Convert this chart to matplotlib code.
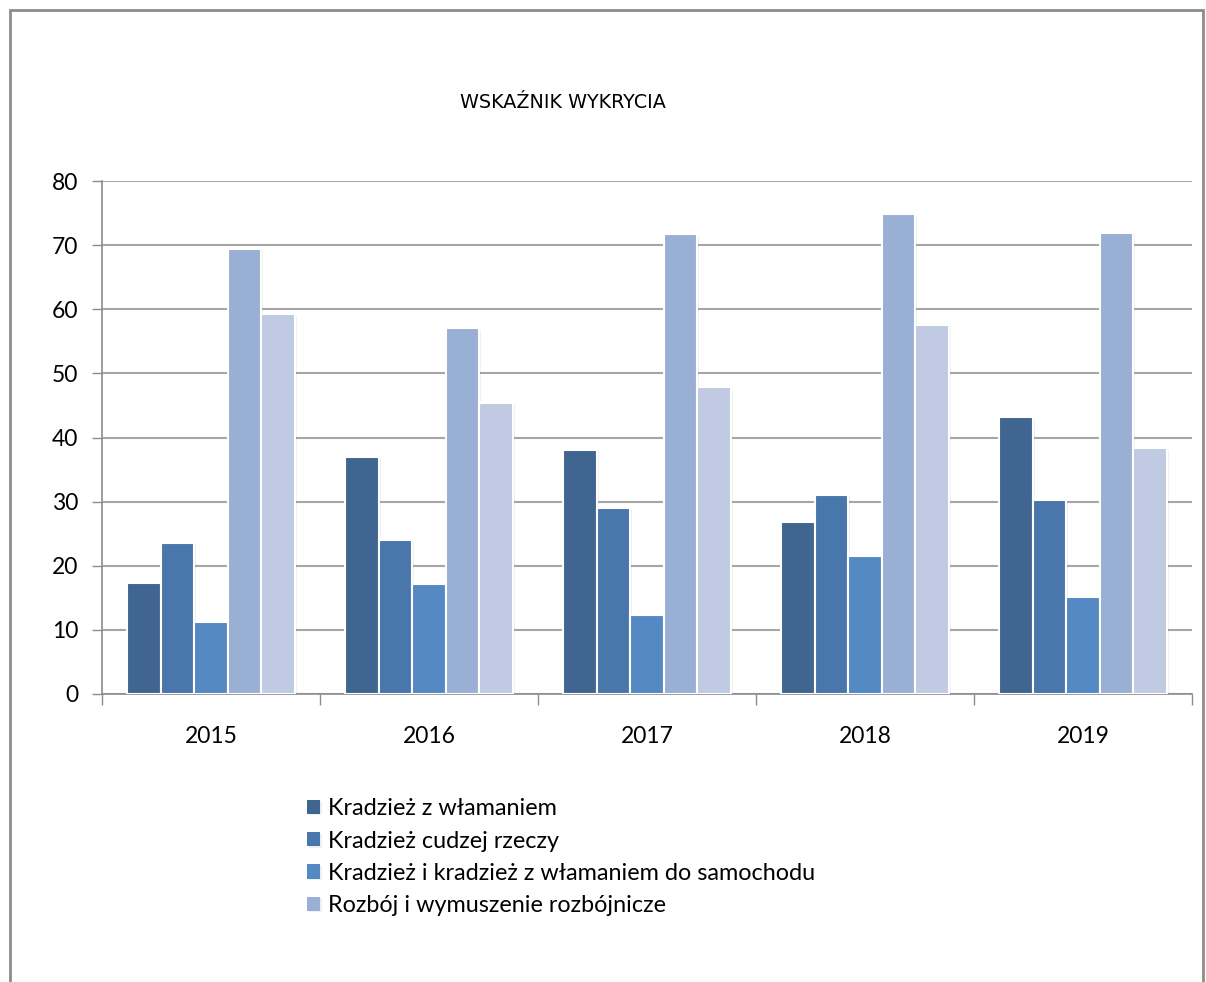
import numpy as np
import matplotlib.pyplot as plt
from matplotlib.patches import Rectangle
import matplotlib.patheffects as pe

years = ["2015", "2016", "2017", "2018", "2019"]
series_names = [
    "Kradzież z włamaniem",
    "Kradzież cudzej rzeczy",
    "Kradzież i kradzież z włamaniem do samochodu",
    "Rozbój i wymuszenie rozbójnicze",
    None,
]
wlamanie = [17.3, 36.9, 38.1, 26.8, 43.2]
cudza_rzecz = [23.6, 24.0, 29.0, 31.1, 30.2]
samochod = [11.3, 17.1, 12.3, 21.5, 15.2]
rozboj = [69.4, 57.0, 71.7, 74.8, 71.9]
piata = [59.2, 45.4, 47.8, 57.6, 38.3]
colors = ["#3F6590", "#4A77AB", "#5589C3", "#9AAFD4", "#C0CBE3"]

all_series = [wlamanie, cudza_rzecz, samochod, rozboj, piata]

fig = plt.figure(figsize=(12.06, 9.82), dpi=100)
plt.rcParams['font.family'] = ['Lato', 'DejaVu Sans']

# frame around the whole chart
fig.patches.append(Rectangle((10 / 1206, -0.05), (1203 - 10) / 1206, 1 - 10 / 982 + 0.05,
                             transform=fig.transFigure, fill=False,
                             edgecolor="#8C8C8C", linewidth=2))

ax = fig.add_axes([102 / 1206, 1 - 694 / 982, (1192 - 102) / 1206, (694 - 181) / 982])

x = np.arange(len(years))
width = 0.154
for i, vals in enumerate(all_series):
    offs = (i - 2) * width
    ax.bar(x + offs, vals, width, color=colors[i], edgecolor="white", linewidth=1.5,
           label=series_names[i] if series_names[i] else "_nolegend_", zorder=3,
           path_effects=[pe.SimplePatchShadow(offset=(1.5, -1), alpha=0.07), pe.Normal()])

ax.set_xlim(-0.5, len(years) - 0.5)
ax.set_ylim(0, 80)
ax.set_yticks(np.arange(0, 81, 10))
ax.yaxis.grid(True, color="#A6A6A6", linewidth=1.5, zorder=0)
ax.set_axisbelow(True)

ax.set_xticks(x)
ax.set_xticklabels(years)
ax.set_xticks(np.arange(-0.5, len(years)), minor=True)
ax.tick_params(axis="x", which="major", length=0, pad=23, labelsize=16.5)
ax.tick_params(axis="x", which="minor", length=8, width=1, color="#8C8C8C")
ax.tick_params(axis="y", length=7, width=1, color="#8C8C8C", pad=10, labelsize=16.5)

for s in ["top", "right"]:
    ax.spines[s].set_visible(False)
for s in ["left", "bottom"]:
    ax.spines[s].set_color("#8C8C8C")
    ax.spines[s].set_linewidth(1.2)

fig.text(563 / 1206, 1 - 103 / 982, "WSKAŹNIK WYKRYCIA", ha="center", va="center",
         fontsize=13.8, family=["Liberation Sans Narrow", "DejaVu Sans"])

handles, labels = ax.get_legend_handles_labels()
leg = fig.legend(handles, labels, loc="upper left", bbox_to_anchor=(298 / 1206, 1 - 789 / 982),
                 frameon=False, fontsize=16.8, handlelength=0.55, handleheight=0.55,
                 handletextpad=0.35, labelspacing=0.48, borderaxespad=0)
for h in leg.legend_handles:
    h.set_edgecolor("none")

fig.savefig("out.png", dpi=100)
